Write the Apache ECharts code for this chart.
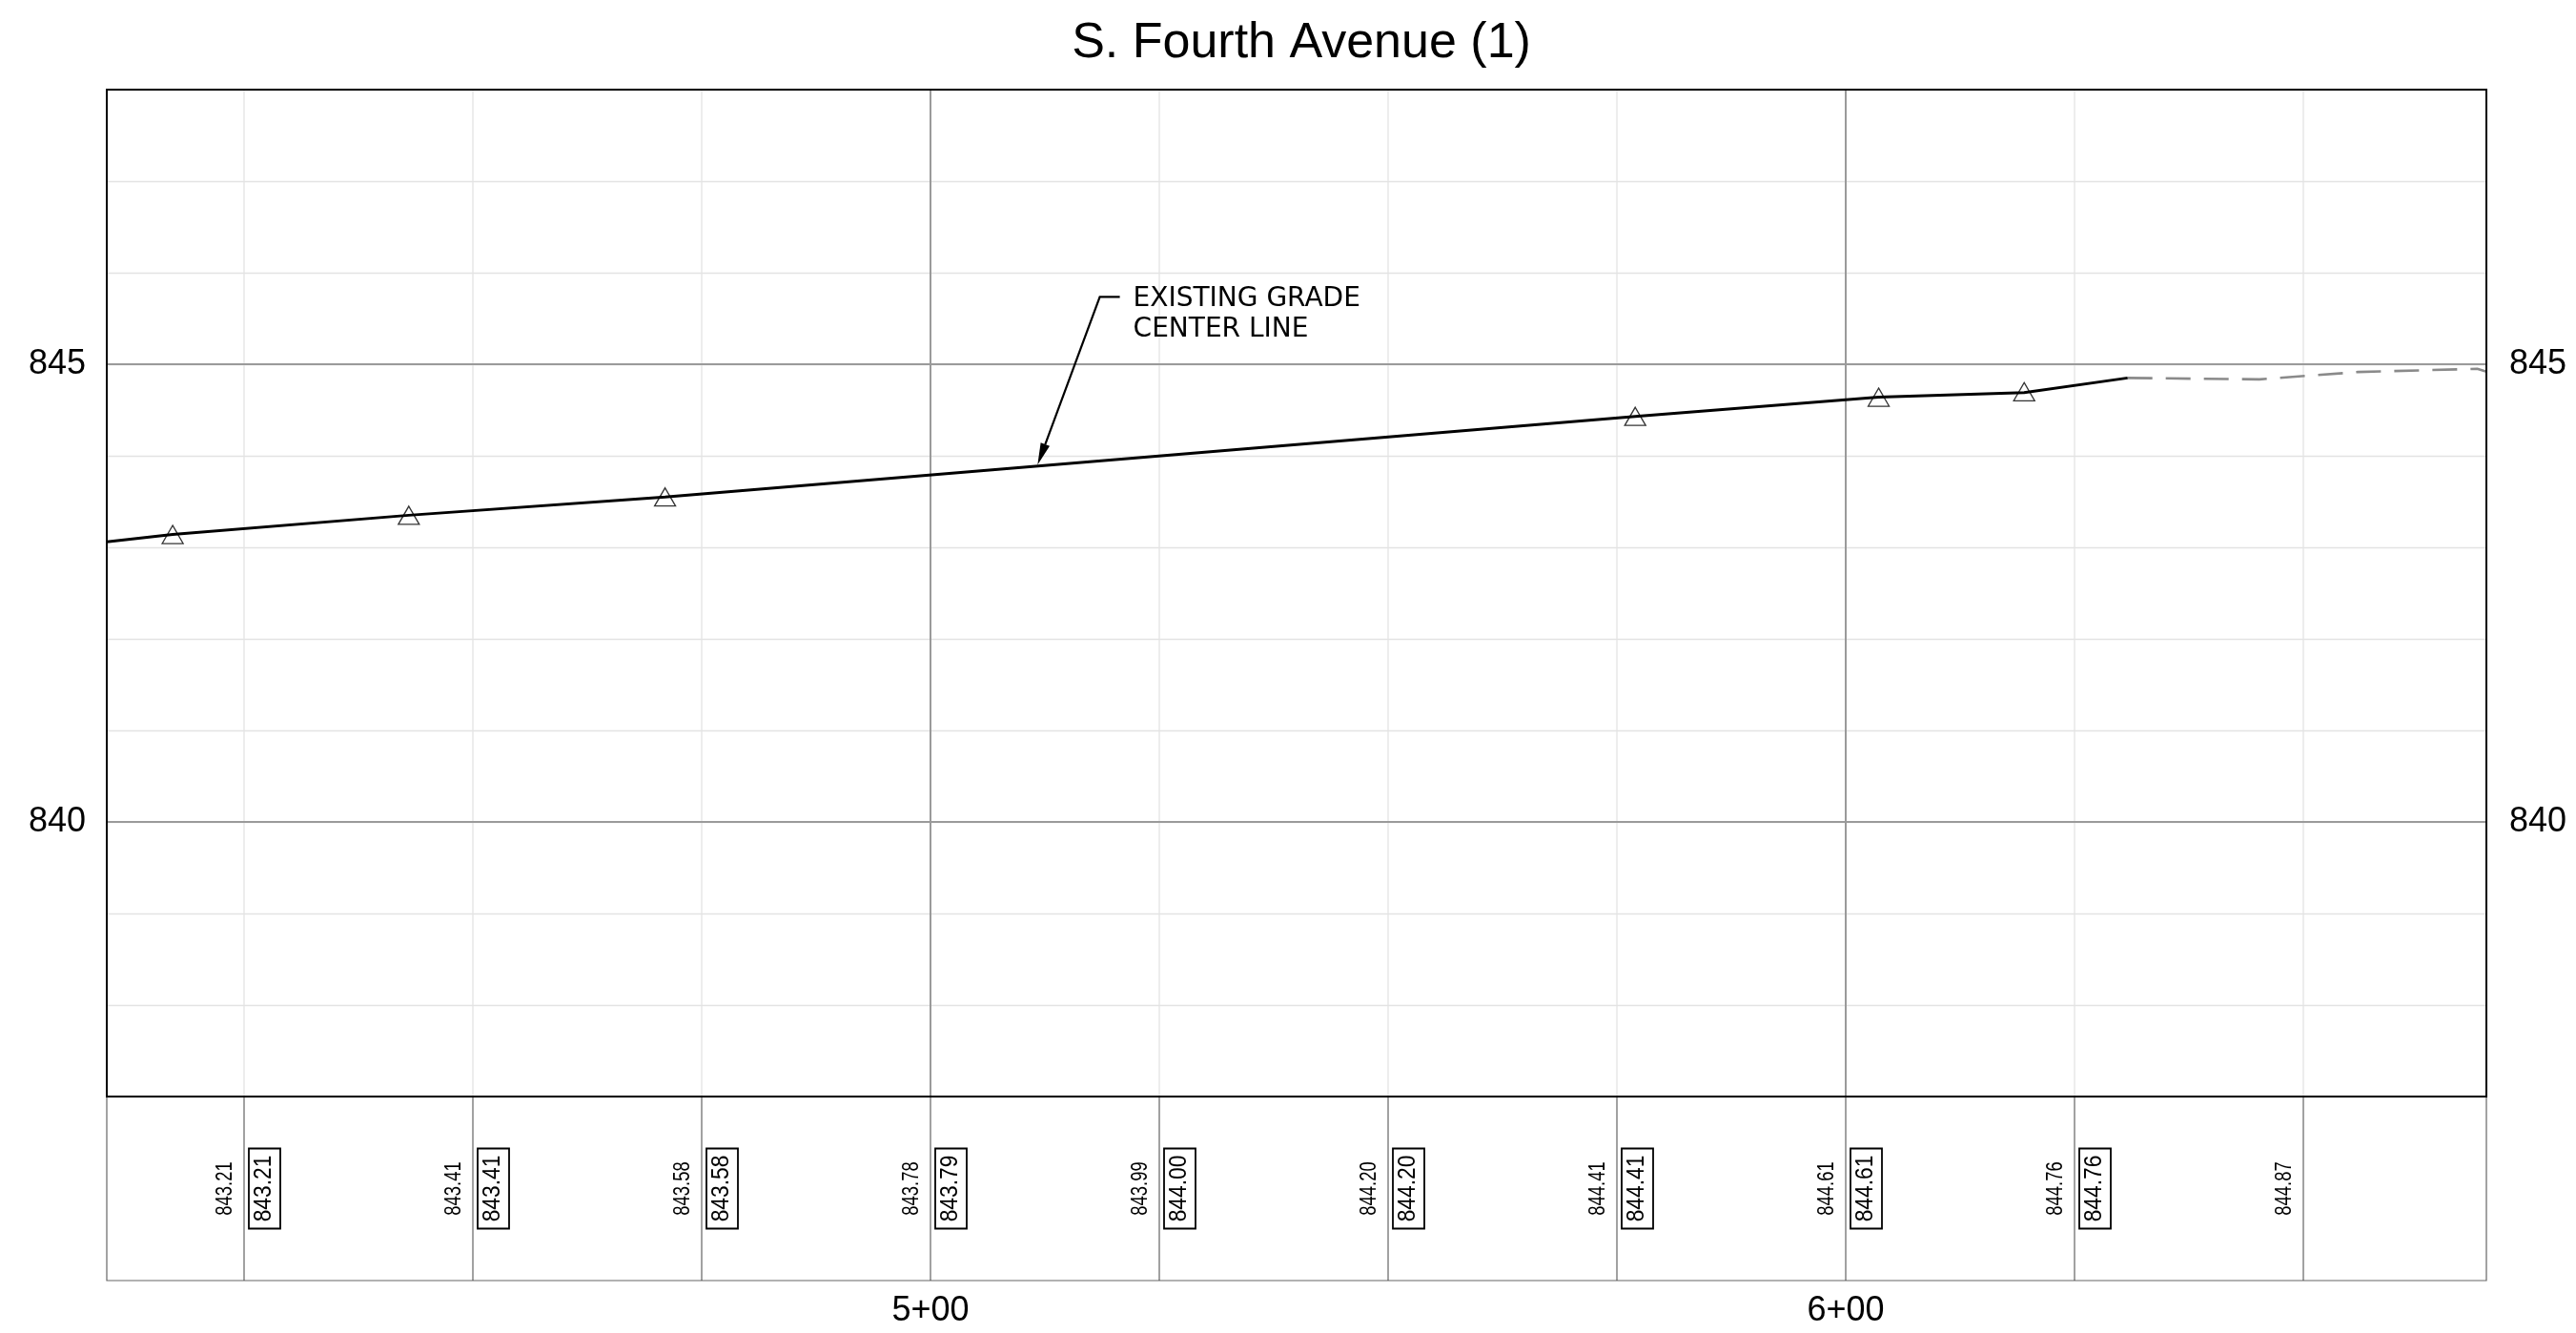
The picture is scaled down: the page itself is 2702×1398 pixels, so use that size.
<!DOCTYPE html>
<html>
<head>
<meta charset="utf-8">
<title>S. Fourth Avenue (1)</title>
<script src="https://cdn.jsdelivr.net/npm/echarts@6/dist/echarts.min.js"></script>
<style>
    html, body { margin: 0; padding: 0; background: #fff; }
    #profile { width: 2702px; height: 1398px; }
</style>
</head>
<body>
<div id="profile"></div>
<script>
// stations (ft) with a gridline, and the two major ones
const stationTicks = [425, 450, 475, 500, 525, 550, 575, 600, 625, 650];
const majorStations = [500, 600];
const stationLabels = [500, 600];
const majorElevations = [840, 845];

// elevations written in the band under the profile
const existingLabels = [843.21, 843.41, 843.58, 843.78, 843.99, 844.20, 844.41, 844.61, 844.76, 844.87];
const boxedLabels = [843.21, 843.41, 843.58, 843.79, 844.00, 844.20, 844.41, 844.61, 844.76, null];

// existing grade center line (solid part)
const solidStations = [410, 417.2, 443.0, 471.0, 577.0, 603.6, 619.5, 630.8];
const solidElevations = [843.06, 843.14, 843.35, 843.55, 844.43, 844.64, 844.69, 844.85];

// surveyed points (triangles)
const surveyStations = [417.2, 443.0, 471.0, 577.0, 603.6, 619.5];
const surveyElevations = [843.14, 843.35, 843.55, 844.43, 844.64, 844.70];

// dashed continuation
const dashedStations = [630.8, 645.2, 656.0, 669.0, 670];
const dashedElevations = [844.85, 844.835, 844.915, 844.95, 844.92];

// axis extents
const xMin = 410, xMax = 670;
const yMin = 837, yMax = 848;

// leader note, in station / elevation
const noteElbow = [518.5, 845.735];
const noteTip = [511.7, 843.9];

const FONT = "'Liberation Sans', Arial, sans-serif";

function zip(xs, ys) {
    return xs.map((x, i) => [x, ys[i]]);
}

function stationText(v) {
    return Math.floor(v / 100) + '+' + String(v % 100).padStart(2, '0');
}

/**
 * vertical lines over the whole height of the grid
 */
function verticalLines(color, width) {
    return function (params, api) {
        const x = api.coord([api.value(0), 0])[0];
        const cs = params.coordSys;
        return {
            type: 'line',
            shape: { x1: x, y1: cs.y, x2: x, y2: cs.y + cs.height },
            style: { stroke: color, lineWidth: width },
        };
    };
}

function horizontalLines(color, width) {
    return function (params, api) {
        const y = api.coord([xMin, api.value(0)])[1];
        const cs = params.coordSys;
        return {
            type: 'line',
            shape: { x1: cs.x, y1: y, x2: cs.x + cs.width, y2: y },
            style: { stroke: color, lineWidth: width },
        };
    };
}

function bandLabel(params, api) {
    const p = api.coord([api.value(0), 0.5]);
    const small = api.value(1);
    const boxed = api.value(2);
    const children = [{
        type: 'text',
        x: p[0] - 19,
        y: p[1],
        rotation: Math.PI / 2,
        scaleX: 0.8,
        style: {
            text: small.toFixed(2), fontSize: 23, fontFamily: FONT,
            fill: '#000', align: 'center', verticalAlign: 'middle',
        },
    }];
    if (!isNaN(boxed)) {
        children.push({
            type: 'rect',
            shape: { x: p[0] + 5, y: p[1] - 42, width: 33, height: 84 },
            style: { fill: 'none', stroke: '#000', lineWidth: 1.8 },
        });
        children.push({
            type: 'text',
            x: p[0] + 21.5,
            y: p[1],
            rotation: Math.PI / 2,
            scaleX: 0.91,
            style: {
                text: boxed.toFixed(2), fontSize: 25, fontFamily: FONT,
                fill: '#000', align: 'center', verticalAlign: 'middle',
            },
        });
    }
    return { type: 'group', children: children };
}

function getProfileOption() {
    const minorStations = stationTicks.filter(s => majorStations.indexOf(s) < 0);
    return {
        backgroundColor: '#fff',
        animation: false,
        title: {
            text: 'S. Fourth Avenue (1)',
            left: 1360,
            textAlign: 'center',
            top: 15,
            textStyle: { fontFamily: FONT, fontSize: 52, fontWeight: 'normal', color: '#000' },
        },
        grid: [
            { left: 112, right: 94, top: 94, height: 1056, show: true, borderColor: '#000', borderWidth: 2, z: 4 },
            { left: 112, right: 94, top: 1150, height: 193, show: true, borderColor: '#666', borderWidth: 1.2, z: 1 },
        ],
        xAxis: [
            { type: 'value', gridIndex: 0, min: xMin, max: xMax, show: false },
            {
                type: 'value', gridIndex: 1, min: xMin, max: xMax,
                axisLine: { show: false },
                axisTick: { show: false },
                splitLine: { show: false },
                axisLabel: {
                    customValues: stationLabels,
                    formatter: stationText,
                    margin: 14,
                    fontFamily: FONT, fontSize: 36, color: '#000',
                },
            },
        ],
        yAxis: [
            {
                type: 'value', gridIndex: 0, min: yMin, max: yMax, interval: 1, position: 'left',
                axisLine: { show: false },
                axisTick: { show: false },
                splitLine: { show: true, lineStyle: { color: '#e3e3e3', width: 1.3 } },
                axisLabel: {
                    margin: 22, fontFamily: FONT, fontSize: 36, color: '#000',
                    formatter: v => (v % 5 === 0 ? String(v) : ''),
                },
            },
            {
                type: 'value', gridIndex: 0, min: yMin, max: yMax, interval: 1, position: 'right',
                axisLine: { show: false },
                axisTick: { show: false },
                splitLine: { show: false },
                axisLabel: {
                    margin: 24, fontFamily: FONT, fontSize: 36, color: '#000',
                    formatter: v => (v % 5 === 0 ? String(v) : ''),
                },
            },
            { type: 'value', gridIndex: 1, min: 0, max: 1, show: false },
        ],
        series: [
            {
                name: 'minor stations', type: 'custom', xAxisIndex: 0, yAxisIndex: 0, z: 1, silent: true,
                data: minorStations.map(s => [s]),
                renderItem: verticalLines('#e3e3e3', 1.3),
            },
            {
                name: 'major stations', type: 'custom', xAxisIndex: 0, yAxisIndex: 0, z: 1, silent: true,
                data: majorStations.map(s => [s]),
                renderItem: verticalLines('#9a9a9a', 2),
            },
            {
                name: 'major elevations', type: 'custom', xAxisIndex: 0, yAxisIndex: 0, z: 1, silent: true,
                data: majorElevations.map(e => [e]),
                renderItem: horizontalLines('#9a9a9a', 2.2),
            },
            {
                name: 'band lines', type: 'custom', xAxisIndex: 1, yAxisIndex: 2, z: 1, silent: true,
                data: stationTicks.map(s => [s]),
                renderItem: verticalLines('#444', 1),
            },
            {
                name: 'band labels', type: 'custom', xAxisIndex: 1, yAxisIndex: 2, z: 3, silent: true,
                data: stationTicks.map((s, i) => [s, existingLabels[i], boxedLabels[i]]),
                renderItem: bandLabel,
            },
            {
                name: 'existing dashed', type: 'line', xAxisIndex: 0, yAxisIndex: 0, z: 2,
                data: zip(dashedStations, dashedElevations),
                showSymbol: false,
                lineStyle: { color: '#8a8a8a', width: 2.6, type: [26, 14] },
            },
            {
                name: 'existing grade', type: 'line', xAxisIndex: 0, yAxisIndex: 0, z: 3,
                data: zip(solidStations, solidElevations),
                showSymbol: false,
                lineStyle: { color: '#000', width: 2.9 },
            },
            {
                name: 'survey points', type: 'scatter', xAxisIndex: 0, yAxisIndex: 0, z: 4,
                data: zip(surveyStations, surveyElevations),
                symbol: 'triangle',
                symbolSize: [22, 19],
                itemStyle: { color: 'rgba(0,0,0,0)', borderColor: '#000', borderWidth: 1.3 },
            },
        ],
    };
}

const chart = echarts.init(document.getElementById('profile'));
chart.setOption(getProfileOption());

// leader note "EXISTING GRADE / CENTER LINE"
const elbow = chart.convertToPixel({ gridIndex: 0 }, noteElbow);
const tip = chart.convertToPixel({ gridIndex: 0 }, noteTip);
const dx = tip[0] - elbow[0], dy = tip[1] - elbow[1];
const len = Math.sqrt(dx * dx + dy * dy);
const ux = dx / len, uy = dy / len;
const base = [tip[0] - ux * 23, tip[1] - uy * 23];
chart.setOption({
    graphic: [
        {
            type: 'polyline', z: 10,
            shape: { points: [[elbow[0] + 21, elbow[1]], elbow, base] },
            style: { stroke: '#000', lineWidth: 2.2, fill: null },
        },
        {
            type: 'polygon', z: 10,
            shape: { points: [tip, [base[0] - uy * 5, base[1] + ux * 5], [base[0] + uy * 5, base[1] - ux * 5]] },
            style: { fill: '#000' },
        },
        {
            type: 'text', z: 10, x: elbow[0] + 35, y: elbow[1] + 2,
            style: { text: 'EXISTING GRADE', fontFamily: "'DejaVu Sans', sans-serif", fontSize: 28, fill: '#000', align: 'left', verticalAlign: 'middle' },
        },
        {
            type: 'text', z: 10, x: elbow[0] + 35, y: elbow[1] + 34.5,
            style: { text: 'CENTER LINE', fontFamily: "'DejaVu Sans', sans-serif", fontSize: 28, fill: '#000', align: 'left', verticalAlign: 'middle' },
        },
    ],
});
</script>
</body>
</html>
